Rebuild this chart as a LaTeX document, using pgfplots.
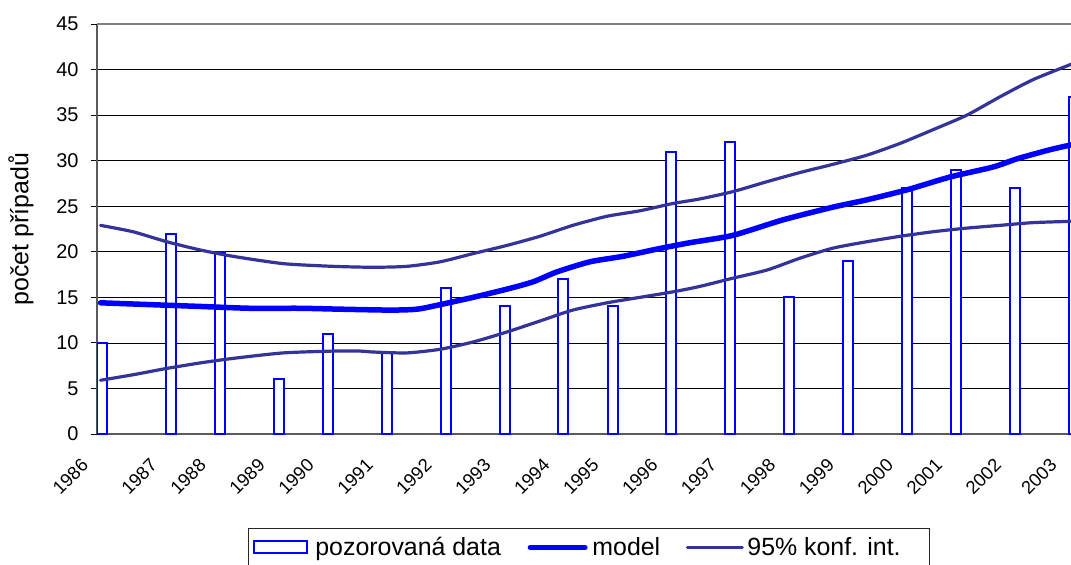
\documentclass[border=0pt]{standalone}
\usepackage{fontspec}
\setmainfont{Liberation Sans}
\usepackage{pgfplots}
\pgfplotsset{compat=1.18}
\definecolor{mblue}{RGB}{0,0,255}
\definecolor{ciblue}{RGB}{51,51,153}
\definecolor{axgray}{RGB}{90,90,90}
\begin{document}
\begin{tikzpicture}
\begin{axis}[
  scale only axis, width=974bp, height=410bp,
  at={(0,0)}, anchor=south west,
  xmin=-1.02, xmax=197.4, ymin=0, ymax=45,
  axis x line*=bottom, axis y line*=left,
  x axis line style={draw=axgray, line width=2.2bp},
  y axis line style={draw=axgray, line width=1.6bp},
  /pgf/number format/assume math mode=true,
  xtick={0,14,24,36,46,58,70,82,94,104,116,128,140,152,164,174,186,197.3},
  xticklabels={1986,1987,1988,1989,1990,1991,1992,1993,1994,1995,1996,1997,1998,1999,2000,2001,2002,2003},
  x tick style={draw=none},
  xticklabel style={xshift=-17bp, yshift=-22bp, rotate=45, anchor=east, font=\fontsize{18.5}{18.5}\selectfont, inner sep=0pt},
  ytick={0,5,...,40},
  extra y ticks={45},
  extra y tick style={grid style={draw=gray, line width=1.8bp}},
  y tick style={draw=black, line width=0.8bp},
  tick align=outside, major tick length=6bp,
  yticklabel style={font=\fontsize{20}{20}\selectfont, xshift=-9bp},
  ymajorgrids, grid style={draw=black, line width=0.75bp},
  ylabel={počet případů},
  ylabel style={at={(axis description cs:-0.078,0.5)}, anchor=center, font=\fontsize{25}{25}\selectfont},
  legend columns=3,
  legend style={at={(0.155,-0.2293)}, anchor=north west, draw=black!85, line width=0.8bp,
    font=\fontsize{25}{25}\selectfont, inner xsep=5bp, inner ysep=7bp,
    /tikz/every odd column/.append style={column sep=0bp},
    /tikz/every even column/.append style={column sep=22bp}},
]
\addplot[ybar, bar width=10bp, draw=mblue, fill=white, line width=2bp,
  legend image code/.code={\draw[draw=mblue, fill=white, line width=2bp] (0bp,-6bp) rectangle (53bp,6bp); \path (58bp,0bp);}]
  coordinates {(0,10) (14,22) (24,20) (36,6) (46,11) (58,9) (70,16) (82,14) (94,17) (104,14) (116,31) (128,32) (140,15) (152,19) (164,27) (174,29) (186,27) (198,37)};
\addlegendentry{pozorovaná data}
\addplot[draw=mblue, line width=5.5bp, line cap=round, smooth, tension=0.4,
  legend image code/.code={\draw[draw=mblue, line width=5.5bp, line cap=round] (2.75bp,0bp) -- (57.25bp,0bp); \path (0bp,0bp) (60bp,0bp);}]
  coordinates {(-0.3,14.4) (9.8,14.2) (20,14.0) (30.1,13.8) (40.3,13.8) (48.5,13.7) (58.7,13.6) (64.2,13.7) (68.9,14.2) (75.6,15.0) (82.5,15.9) (87.8,16.7) (92.7,17.8) (99.4,18.9) (106.1,19.5) (113.1,20.3) (119.8,21.0) (128.5,21.8) (138.7,23.5) (148.9,24.9) (155.8,25.7) (164,26.8) (172.7,28.2) (181.5,29.3) (186.4,30.2) (193.1,31.2) (198,31.8)};
\addlegendentry{model}
\addplot[draw=ciblue, line width=3.2bp, line cap=round, smooth, tension=0.4,
  legend image code/.code={\draw[draw=ciblue, line width=3.2bp, line cap=round] (1.6bp,0bp) -- (56.4bp,0bp); \path (0bp,0bp) (58bp,0bp);}]
  coordinates {(-0.3,22.9) (6.3,22.2) (13.2,21.1) (20,20.2) (26.7,19.5) (36.9,18.7) (47.1,18.4) (55.2,18.3) (62.1,18.4) (68.9,18.9) (75.6,19.8) (82.5,20.7) (89.2,21.7) (95.9,22.9) (102.9,23.9) (109.6,24.5) (116.3,25.3) (121.8,25.8) (128.5,26.6) (135.5,27.7) (142.2,28.7) (148.9,29.6) (155.8,30.6) (162.6,31.9) (169.3,33.4) (176.2,35.0) (182.9,37.0) (189.7,38.9) (198,40.7)};
\addlegendentry{95\% konf. int.\rule{22bp}{0pt}}
\addplot[draw=ciblue, line width=3.2bp, line cap=round, smooth, tension=0.4, forget plot]
  coordinates {(-0.3,5.9) (6.3,6.5) (13.2,7.2) (20,7.8) (26.7,8.3) (36.9,8.9) (47.1,9.1) (52.6,9.1) (55.2,9.0) (62.1,8.9) (68.9,9.3) (75.6,10.1) (82.5,11.2) (89.2,12.4) (95.9,13.6) (102.9,14.4) (109.6,15.0) (116.3,15.6) (121.8,16.2) (128.5,17.1) (135.5,18.0) (142.2,19.3) (148.9,20.4) (155.8,21.1) (162.6,21.7) (169.3,22.2) (176.2,22.6) (182.9,22.9) (189.7,23.2) (198,23.35)};
\end{axis}
\pgfresetboundingbox
\useasboundingbox (-97bp,-131bp) rectangle (974bp,434bp);
\end{tikzpicture}
\end{document}
